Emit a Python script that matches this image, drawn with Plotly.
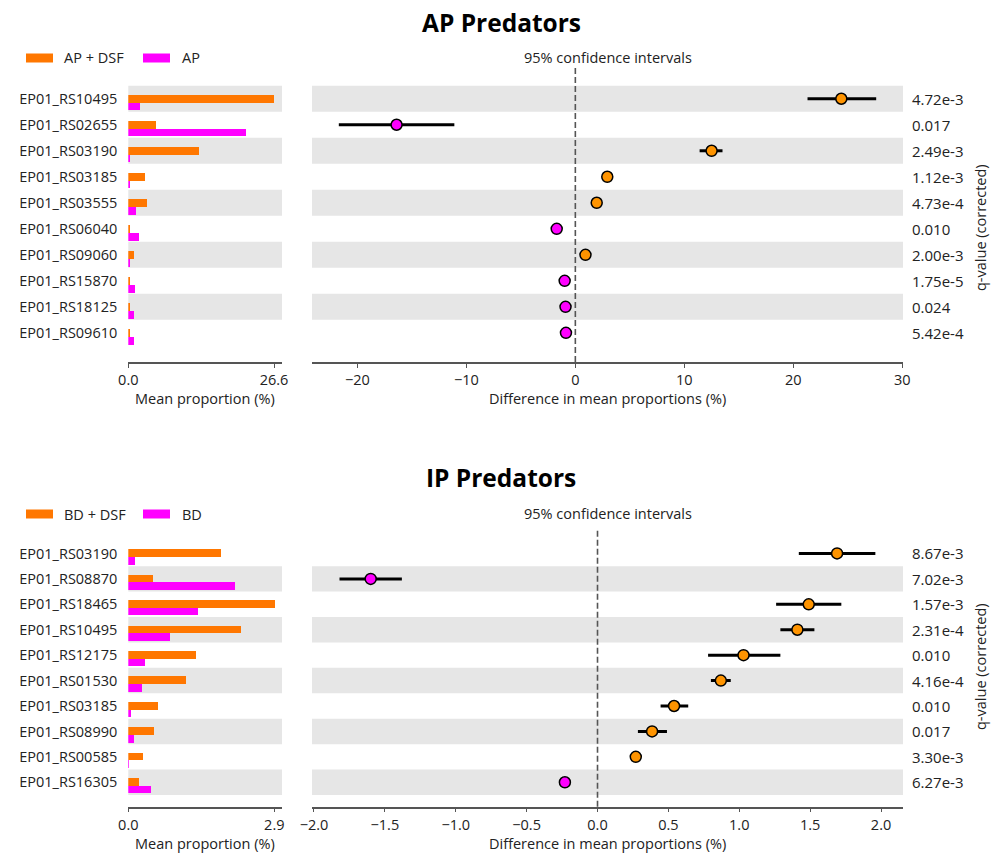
import plotly.graph_objects as go

# ---------------- data ----------------
ap_genes = ["EP01_RS10495", "EP01_RS02655", "EP01_RS03190", "EP01_RS03185", "EP01_RS03555",
            "EP01_RS06040", "EP01_RS09060", "EP01_RS15870", "EP01_RS18125", "EP01_RS09610"]
ap_dsf = [26.6, 5.17, 12.9, 3.1, 3.4, 0.3, 1.04, 0.2, 0.2, 0.2]
ap_only = [2.26, 21.6, 0.31, 0.19, 1.4, 2.0, 0.25, 1.28, 1.16, 1.16]
ap_diff = [24.4, -16.4, 12.5, 2.93, 1.96, -1.71, 0.93, -0.98, -0.9, -0.86]
ap_lo = [21.3, -21.7, 11.4, 2.65, 1.7, -1.95, 0.7, -1.2, -1.1, -1.05]
ap_hi = [27.6, -11.1, 13.5, 3.2, 2.2, -1.45, 1.15, -0.75, -0.7, -0.65]
ap_q = ["4.72e-3", "0.017", "2.49e-3", "1.12e-3", "4.73e-4",
        "0.010", "2.00e-3", "1.75e-5", "0.024", "5.42e-4"]

ip_genes = ["EP01_RS03190", "EP01_RS08870", "EP01_RS18465", "EP01_RS10495", "EP01_RS12175",
            "EP01_RS01530", "EP01_RS03185", "EP01_RS08990", "EP01_RS00585", "EP01_RS16305"]
bd_dsf = [1.84, 0.49, 2.91, 2.25, 1.36, 1.15, 0.60, 0.51, 0.29, 0.22]
bd_only = [0.14, 2.12, 1.40, 0.84, 0.33, 0.28, 0.05, 0.11, 0.01, 0.45]
ip_diff = [1.69, -1.60, 1.49, 1.41, 1.03, 0.87, 0.54, 0.385, 0.27, -0.23]
ip_lo = [1.42, -1.82, 1.26, 1.29, 0.78, 0.80, 0.445, 0.285, 0.25, -0.25]
ip_hi = [1.96, -1.38, 1.72, 1.53, 1.29, 0.94, 0.64, 0.49, 0.29, -0.21]
ip_q = ["8.67e-3", "7.02e-3", "1.57e-3", "2.31e-4", "0.010",
        "4.16e-4", "0.010", "0.017", "3.30e-3", "6.27e-3"]

panels = [
    dict(title="AP Predators", groups=["AP + DSF", "AP"], genes=ap_genes, a=ap_dsf, b=ap_only,
         diff=ap_diff, lo=ap_lo, hi=ap_hi, q=ap_q, bar_max_label="26.6", bar_max=26.6,
         ci_ticks=[-20, -10, 0, 10, 20, 30], ci_tickfmt="d"),
    dict(title="IP Predators", groups=["BD + DSF", "BD"], genes=ip_genes, a=bd_dsf, b=bd_only,
         diff=ip_diff, lo=ip_lo, hi=ip_hi, q=ip_q, bar_max_label="2.9", bar_max=2.9,
         ci_ticks=[-2.0, -1.5, -1.0, -0.5, 0.0, 0.5, 1.0, 1.5, 2.0], ci_tickfmt=".1f"),
]

# ---------------- style / layout ----------------
W, H = 993, 854
FONT = "Open Sans, DejaVu Sans, sans-serif"
ORANGE_BAR = "#FF7700"
ORANGE_PT = "#FF9400"
MAGENTA = "#FF00FF"
BAND = "#E6E6E6"
AXC = "#555555"


def fx(x):
    return x / W


def fy(y):
    return 1 - y / H


# per-panel geometry in pixels
geo = [
    dict(top=67, bottom=362, yrange=[10.12, -1.22], band_parity=0, bar_xmax=28.06,
         ci_range=[-24.16, 30.06], title_y=22, legend_y=58, ci_title_y=58,
         xlabel_y=399, qlabel_y=228),
    dict(top=529.3, bottom=806.7, yrange=[9.96, -0.95], band_parity=1, bar_xmax=3.053,
         ci_range=[-2.014, 2.155], title_y=478, legend_y=514, ci_title_y=513,
         xlabel_y=843, qlabel_y=667),
]
BAR_X = [128.3, 282]
CI_X = [312, 903]

fig = go.Figure()
shapes = []
annotations = []
layout_axes = {}

for p, (pan, g) in enumerate(zip(panels, geo)):
    bx = "x" if p == 0 else "x3"
    by = "y" if p == 0 else "y3"
    cx = "x2" if p == 0 else "x4"
    cy = "y2" if p == 0 else "y4"
    n = len(pan["genes"])
    rows = list(range(n))

    # bars
    fig.add_trace(go.Bar(orientation="h", x=pan["a"], y=[r + 0.0 for r in rows], width=0.3,
                         marker=dict(color=ORANGE_BAR, line=dict(width=0)),
                         xaxis=bx, yaxis=by, showlegend=False, hoverinfo="x"))
    fig.add_trace(go.Bar(orientation="h", x=pan["b"], y=[r + 0.3 for r in rows], width=0.3,
                         marker=dict(color=MAGENTA, line=dict(width=0)),
                         xaxis=bx, yaxis=by, showlegend=False, hoverinfo="x"))

    # CI points
    plus = [h - d for h, d in zip(pan["hi"], pan["diff"])]
    minus = [d - l for d, l in zip(pan["diff"], pan["lo"])]
    cols = [ORANGE_PT if d > 0 else MAGENTA for d in pan["diff"]]
    fig.add_trace(go.Scatter(x=pan["diff"], y=rows, mode="markers",
                             error_x=dict(type="data", symmetric=False, array=plus,
                                          arrayminus=minus, thickness=3, width=0, color="black"),
                             marker=dict(size=11, color=cols, line=dict(width=1.5, color="black")),
                             xaxis=cx, yaxis=cy, showlegend=False))

    # bands
    for r in rows:
        if r % 2 == g["band_parity"]:
            for xr, yr in ((bx, by), (cx, cy)):
                shapes.append(dict(type="rect", xref=xr + " domain", x0=0, x1=1, yref=yr,
                                   y0=r - 0.5, y1=r + 0.5, fillcolor=BAND, line=dict(width=0),
                                   layer="below"))

    # zero dashed line
    shapes.append(dict(type="line", xref=cx, x0=0, x1=0, yref=cy + " domain", y0=0, y1=1,
                       line=dict(color=AXC, width=1.6, dash="6px,3px"), layer="above"))

    # q-values
    for r, qv in zip(rows, pan["q"]):
        annotations.append(dict(text=qv, xref="paper", x=fx(910), yref=cy, y=r,
                                xanchor="left", yanchor="middle", showarrow=False,
                                font=dict(family=FONT, size=15, color="#222")))
    annotations.append(dict(text="q-value (corrected)", xref="paper", x=fx(980), yref="paper",
                            y=fy(g["qlabel_y"]), textangle=-90, showarrow=False,
                            xanchor="center", yanchor="middle",
                            font=dict(family=FONT, size=14.5, color="#222")))

    # titles
    annotations.append(dict(text="<b>%s</b>" % pan["title"], xref="paper", x=fx(501),
                            yref="paper", y=fy(g["title_y"]), showarrow=False,
                            xanchor="center", yanchor="middle",
                            font=dict(family=FONT, size=24.5, color="black")))
    annotations.append(dict(text="95% confidence intervals", xref="paper",
                            x=fx((CI_X[0] + CI_X[1]) / 2), yref="paper", y=fy(g["ci_title_y"]),
                            showarrow=False, xanchor="center", yanchor="middle",
                            font=dict(family=FONT, size=14.5, color="#222")))
    annotations.append(dict(text="Mean proportion (%)", xref="paper",
                            x=fx((BAR_X[0] + BAR_X[1]) / 2), yref="paper", y=fy(g["xlabel_y"]),
                            showarrow=False, xanchor="center", yanchor="middle",
                            font=dict(family=FONT, size=14.5, color="#222")))
    annotations.append(dict(text="Difference in mean proportions (%)", xref="paper",
                            x=fx((CI_X[0] + CI_X[1]) / 2), yref="paper", y=fy(g["xlabel_y"]),
                            showarrow=False, xanchor="center", yanchor="middle",
                            font=dict(family=FONT, size=14.5, color="#222")))

    # legend
    for (lx, tx), label, col in zip(((26, 62), (143, 180)), pan["groups"], (ORANGE_BAR, MAGENTA)):
        shapes.append(dict(type="rect", xref="paper", yref="paper", x0=fx(lx), x1=fx(lx + 27),
                           y0=fy(g["legend_y"] + 4.5), y1=fy(g["legend_y"] - 4.5),
                           fillcolor=col, line=dict(width=0)))
        annotations.append(dict(text=label, xref="paper", x=fx(tx), yref="paper",
                                y=fy(g["legend_y"]), xanchor="left", yanchor="middle",
                                showarrow=False, font=dict(family=FONT, size=14.5, color="#222")))

    ydom = [fy(g["bottom"]), fy(g["top"])]
    sfx_b = "" if p == 0 else "3"
    sfx_c = "2" if p == 0 else "4"
    common_x = dict(showline=True, linecolor=AXC, linewidth=1.5, ticks="outside", ticklen=4,
                    tickcolor=AXC, tickwidth=1.2, showgrid=False, zeroline=False,
                    automargin=False,
                    tickfont=dict(family=FONT, size=14.5, color="#222"), fixedrange=True)
    layout_axes["xaxis" + sfx_b] = dict(common_x, domain=[fx(BAR_X[0]), fx(BAR_X[1])],
                                        range=[0, g["bar_xmax"]], anchor=by,
                                        tickvals=[0, pan["bar_max"]],
                                        ticktext=["0.0", pan["bar_max_label"]])
    layout_axes["yaxis" + sfx_b] = dict(domain=ydom, range=g["yrange"], anchor=bx,
                                        tickvals=rows, ticktext=pan["genes"], showline=False,
                                        ticks="", showgrid=False, zeroline=False,
                                        ticklabelstandoff=10, automargin=False, fixedrange=True,
                                        tickfont=dict(family=FONT, size=14.5, color="#222"))
    layout_axes["xaxis" + sfx_c] = dict(common_x, domain=[fx(CI_X[0]), fx(CI_X[1])],
                                        range=g["ci_range"], anchor=cy,
                                        tickvals=pan["ci_ticks"], tickformat=pan["ci_tickfmt"])
    layout_axes["yaxis" + sfx_c] = dict(domain=ydom, range=g["yrange"], anchor=cx,
                                        showticklabels=False, showline=False, ticks="",
                                        showgrid=False, zeroline=False, automargin=False,
                                        fixedrange=True)

fig.update_layout(
    width=W, height=H, margin=dict(l=0, r=0, t=0, b=0, autoexpand=False),
    paper_bgcolor="white", plot_bgcolor="white",
    barmode="overlay", bargap=0, showlegend=False,
    shapes=shapes, annotations=annotations,
    font=dict(family=FONT, size=14.5, color="#222"),
    **layout_axes,
)

fig.write_html("out.html", config={"displayModeBar": False},
               post_script="document.body.style.margin='0px';document.body.style.padding='0px';")
